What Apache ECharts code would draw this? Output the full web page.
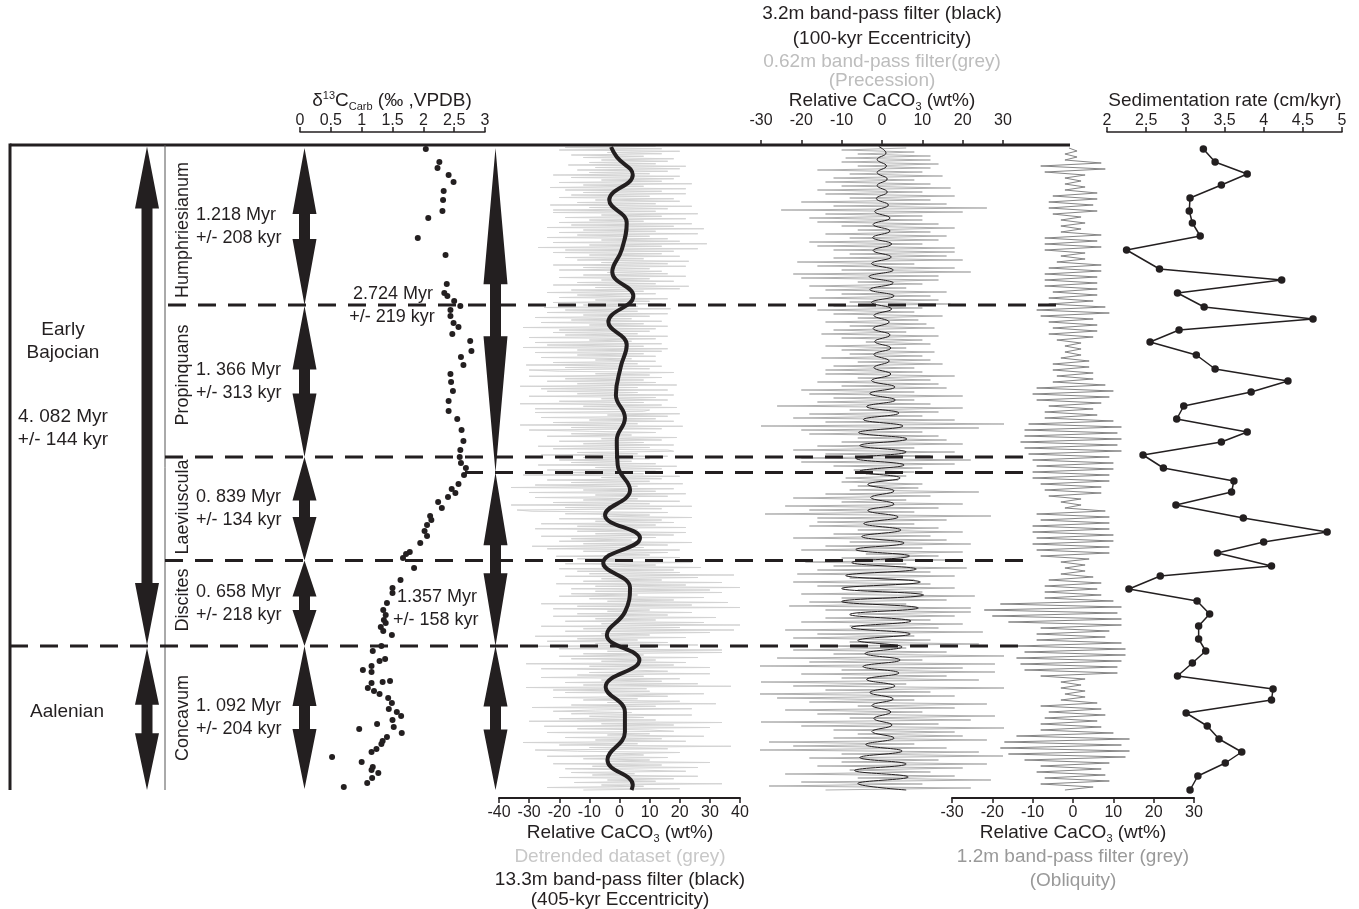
<!DOCTYPE html>
<html><head><meta charset="utf-8">
<script src="https://cdn.jsdelivr.net/npm/echarts@6/dist/echarts.min.js"></script>
<style>html,body{margin:0;padding:0;background:#fff}#c{width:1359px;height:909px}</style>
</head><body><div id="c"></div>
<script>
// ---------- DATA (heights in m above base of section) ----------
const d13cHeight = [64.1,62.8,62.2,61.5,60.8,59.9,59.0,57.9,57.2,55.2,53.5,50.6,49.7,49.4,48.9,48.4,48.0,47.4,46.7,46.3,45.6,44.9,43.9,43.3,42.5,41.6,40.8,39.9,38.9,37.9,37.1,36.0,34.9,34.0,33.3,32.7,32.2,31.5,30.6,30.1,29.7,29.3,28.8,28.2,27.4,27.0,26.5,25.9,25.4,24.7,23.8,23.6,23.2,22.2,21.0,20.2,19.7,18.7,18.0,17.5,17.0,16.7,16.3,15.9,15.5,14.4,13.9,13.1,12.9,12.4,12.0,11.8,10.8,10.9,10.7,10.2,9.9,9.6,9.2,8.7,8.1,7.8,7.4,7.0,6.6,6.3,6.1,5.7,5.3,4.9,4.6,4.1,3.8,3.3,2.8,2.3,2.0,1.7,1.2,0.7,0.3];
const d13cValue = [2.04,2.26,2.23,2.41,2.49,2.33,2.32,2.31,2.08,1.91,2.36,2.38,2.34,2.39,2.50,2.60,2.44,2.44,2.49,2.57,2.47,2.76,2.78,2.61,2.65,2.44,2.45,2.48,2.41,2.41,2.55,2.62,2.65,2.60,2.59,2.61,2.69,2.66,2.57,2.46,2.52,2.40,2.24,2.30,2.11,2.13,2.06,2.02,2.06,1.95,1.78,1.72,1.67,1.85,1.63,1.50,1.50,1.41,1.35,1.39,1.36,1.39,1.31,1.35,1.49,1.32,1.18,1.38,1.29,1.16,1.02,1.16,1.34,1.46,1.16,1.10,1.20,1.29,1.43,1.49,1.44,1.57,1.64,1.50,1.25,1.52,0.96,1.65,1.41,1.34,1.32,1.24,1.16,0.52,1.00,1.18,1.16,1.27,1.17,1.09,0.71];

const sedHeight = [64.1,62.8,61.6,60.5,59.2,57.9,56.7,55.4,54.0,52.1,51.0,49.7,48.3,47.1,46.0,44.8,43.5,42.1,40.9,39.8,38.4,37.1,35.8,34.8,33.5,32.2,30.9,29.8,28.5,27.2,25.8,24.8,23.7,22.4,21.4,20.1,18.9,17.6,16.4,15.1,13.9,12.7,11.4,10.1,9.0,7.7,6.4,5.1,3.8,2.7,1.4,0.0];
const sedRate = [3.23,3.38,3.79,3.46,3.06,3.05,3.09,3.19,2.25,2.67,4.23,2.90,3.24,4.63,2.92,2.55,3.14,3.38,4.31,3.84,2.98,2.89,3.79,3.46,2.46,2.72,3.62,3.59,2.88,3.74,4.81,4.00,3.41,4.10,2.68,2.28,3.15,3.31,3.17,3.17,3.26,3.09,2.90,4.12,4.10,3.01,3.28,3.43,3.72,3.51,3.16,3.06];

// 13.3 m band-pass (405-kyr)
const ecc405Height = [64.3,63.3,61.5,59.0,56.7,54.0,51.8,49.4,46.8,44.5,42.3,39.5,37.2,35.0,32.5,30.0,27.5,25.2,22.7,20.2,17.8,15.5,13.0,10.3,7.8,5.8,3.0,0.5,0.0];
const ecc405Value = [-2.8,-0.9,4.4,-3.4,2.4,0.7,-2.4,4.6,-3.7,2.4,0.4,-1.2,1.8,-0.9,-0.6,3.5,-4.8,6.8,-5.4,3.5,1.8,-4.2,6.6,-4.6,1.8,1.8,-4.0,4.4,4.0];

// detrended CaCO3 (sampled every 0.125 m from base)
const detrendStep = 0.125;
const detrendValues = [
-12,20,-24,8,-6,34,-15,12,-4,18,-20,26,-9,5,-16,22,
5,-18,26,-9,14,-22,30,-4,10,-12,16,-24,8,-2,20,-14,
-28,16,-10,37,-20,6,-32,22,-8,14,-18,28,-4,10,-24,18,
10,-14,30,-25,18,-6,34,-30,12,-20,8,-10,24,-16,4,-22,
-8,24,-29,12,-16,32,-4,20,-12,6,-22,16,-2,28,-18,10,
-22,9,-31,37,-12,26,-18,14,-6,20,-26,8,-14,30,-10,16,
4,-26,30,-10,18,-31,22,-6,12,-16,26,-20,8,-12,34,-4,
34,-20,12,-32,26,-8,16,-24,6,-14,22,-28,10,-6,30,-18,
38,-12,20,-26,40,-6,28,-18,12,-8,32,-22,16,-14,24,-4,
10,-22,40,-14,24,-26,36,-4,18,-10,28,-20,6,-16,34,-8,
30,-16,40,-8,22,-21,34,-12,14,-6,26,-18,38,-10,20,-14,
18,-20,27,-6,12,-18,24,-10,4,-14,20,-21,10,-4,16,-12,
20,-24,8,-29,16,-12,24,-20,4,-16,12,-26,18,-8,22,-14,
6,-28,22,-14,12,-26,18,-8,14,-20,24,-6,10,-18,16,-29,
-34,14,-18,24,-36,10,-22,20,-12,6,-28,16,-8,22,-30,12,
-12,18,-36,6,-28,21,-16,10,-24,14,-6,20,-32,8,-18,12,
-24,14,-8,19,-27,12,-16,4,-20,10,-12,16,-26,6,-14,18,
16,-22,10,-27,18,-12,8,-20,14,-6,19,-24,4,-16,12,-10,
-30,14,-16,21,-33,6,-22,18,-10,12,-26,16,-4,20,-28,8,
10,-28,19,-12,14,-33,8,-20,16,-6,12,-30,18,-14,6,-24,
16,-26,6,-33,19,-14,12,-24,8,-18,14,-30,10,-8,18,-20,
-30,10,-18,14,-31,6,-22,12,-8,4,-26,12,-14,8,-28,14,
-14,16,-32,8,-24,14,-28,4,-10,12,-30,16,-18,6,-22,10,
-20,12,-32,16,-10,8,-26,14,-16,4,-28,10,-12,16,-24,6,
-18,17,-25,6,-12,14,-22,10,-8,16,-20,4,-14,12,-24,8,
-16,20,-8,23,-22,12,-14,18,-6,10,-20,22,-12,16,-4,14,
-20,10,-12,22,-22,16,-6,23,-14,8,-18,20,-10,14,-22,18,
-18,26,-27,14,-10,29,-22,20,-6,16,-24,10,-14,26,-20,12,
-12,28,-24,18,-16,24,-20,8,-10,22,-18,14,-6,26,-22,12,
-22,16,-10,24,-23,12,-14,20,-8,18,-20,10,-16,22,-12,14,
-18,22,-23,8,-12,24,-20,14,-6,18,-16,20,-22,10,-10,16,
-14,20,-8,22,-17,12,-10,16,-6,18,-12,8,-16,14,-4,20,
-20,14,-18,12];

// 3.2 m band-pass (100-kyr), sampled every 0.65 m
const ecc100Step = 0.65;
const ecc100Values = [6,-6,6.5,-6.8,6,-5.5,5,-4,3,-2.5, 2.5,-2,2.2,-2.5,2.8,-3,3.2,-3.8,4.2,-4.7,
 4.5,-4.2,5,-6,7,-7.6,7.2,-8,9,-10, 10.3,-10,9.5,-9,8.5,-7.5,6.8,-6.5,5.5,-5,
 4.7,-4.5,4,-3.5,3,-2.8,3,-3.5,4.5,-5.6, 5.5,-6.4,6,-5.5,6.2,-5.8,5.2,-4.6,4.2,-3.8,
 3.3,-3,3.2,-2.6,2.2,-2,1.8,-2,2.2,-1.8, 2,-2.2,1.8,-2,2.4,-2.6,3,-3,2.8,-3.2,
 2.8,-2.6,2.3,-2.2,2.4,-2.3,2,-2.2,2,-1.8, 1.6,-1.4,1.3,-1.2,1.3,-1.2,1.1,-1.2,1,-0.8];

// 0.62 m band-pass (precession), sampled every 0.2 m
const precStep = 0.2;
const precValues = [
-14,22,-28,10,-20,27,-6,18,-24,12,-8,20,-16,26,-10,
14,-18,30,-10,24,-31,16,-22,8,-28,26,-12,20,-6,18,
-12,31,-20,14,-30,22,-8,28,-16,10,-24,18,-6,26,-18,
8,-26,18,-33,12,-14,32,-22,6,-30,24,-10,16,-20,28,
-10,20,-32,28,-18,10,-26,33,-12,16,-22,6,-14,24,-8,
12,-22,8,-16,25,-24,14,-8,20,-20,12,-14,18,-6,22,
-14,22,-23,6,-18,16,-10,23,-20,10,-6,18,-16,12,-22,
8,-8,18,-21,12,-16,21,-12,6,-19,16,-10,14,-4,20,
-20,10,-14,22,-8,16,-22,12,-12,20,-6,14,-18,8,-16,
16,-16,27,-29,8,-18,14,-24,20,-10,6,-22,12,-14,24,
-8,9,-6,10,-10,4,-9,6,-4,8,-7,10,-12,18,-20,
22,-20,12,-14,18,-22,8,-16,20,-10,16,-6,14,-18,10,
-20,24,-30,31,-14,18,-22,10,-18,14,-8,20,-26,12,-16,
8,-12,20,-18,8,-20,16,-10,14,-16,12,-6,18,-14,10,
-14,8,-12,15,-6,12,-15,10,-8,13,-10,6,-14,12,-4,
10,-10,14,-15,6,-12,13,-8,11,-14,9,-6,15,-12,8,
-16,10,-12,17,-8,14,-18,12,-10,16,-14,6,-18,10,-6,
14,-20,14,-22,22,-10,18,-16,8,-21,20,-12,16,-8,18,
-12,18,-16,10,-18,14,-8,16,-14,12,-6,18,-10,14,-16,
10,-18,10,-14,20,-25,26,-12,16,-20,12,-8,18,-14,10,
-16,17,-10,12,-14,8,-12,15,-8,10,-16,12,-6,14,-10,
12,-9,12,-6,8,-10,6];

// 1.2 m band-pass (obliquity), sampled every 0.3 m
const oblStep = 0.3;
const oblValues = [
-2,5,-8,9,-7,8,-9,7,-8,9, -12,13,-16,14,-18,12,-17,14,-14,10, -8,7,-8,6,-7,8,-6,7,-8,6,
-3,3,-2,3,-3,2,-3,3,-8,11, -12,11,-13,12,-14,13,-12,13,-14,12, -9,8,-9,9,-8,12,-16,12,-20,11,
-22,12,-18,10,-7,7,-7,6,-7,7, -6,5,-3,3,-2,3,-3,4,-8,9, -9,9,-10,10,-9,10,-10,9,-10,9,
-8,9,-9,8,-2,2,-3,2,-6,7, -7,7,-8,9,-10,9,-10,10,-9,10, -10,9,-11,12,-12,11,-13,12,-12,11,
-12,12,-11,10,-7,6,-7,5,-6,7, -9,9,-10,10,-9,8,-5,5,-4,5, -5,4,-5,4,-3,2,-2,2,-2,2,
-4,5,-6,6,-5,6,-6,5,-8,9, -9,8,-6,5,-6,6,-5,6,-7,6, -7,6,-7,7,-6,7,-4,3,-3,3,
-7,7,-7,6,-7,7,-3,2,-3,3, -3,2,-5,6,-6,5,-6,6,-5,6, -2,3,-2,2,-2,3,-7,8,-8,7,
-2,1,-2,1,-1];

// tick labels
const d13cTicks = [0,0.5,1,1.5,2,2.5,3];
const detrendTicks = [-40,-30,-20,-10,0,10,20,30,40];
const ecc100Ticks = [-30,-20,-10,0,10,20,30];
const oblTicks = [-30,-20,-10,0,10,20,30];
const sedTicks = [2,2.5,3,3.5,4,4.5,5];

// zones
const zoneNames = ['Humphriesianum','Propinquans','Laeviuscula','Discites','Concavum'];
const zoneTop = [64.2,48.4,33.3,22.95,14.4];
const zoneBase = [48.5,33.3,22.95,14.4,0.1];
const zoneDurMyr = ['1.218 Myr','1. 366 Myr','0. 839 Myr','0. 658 Myr','1. 092 Myr'];
const zoneDurErr = ['+/- 208 kyr','+/- 313 kyr','+/- 134 kyr','+/- 218 kyr','+/- 204 kyr'];
const bigTop = [64.2,31.75,14.4];
const bigBase = [31.75,14.4,0];
const boundaryH = [48.5,33.3,31.75,22.95,14.4];
const H_MAX = 64.5;

// ---------- CHART ----------
const FONT = '"Liberation Sans", Arial, Helvetica, sans-serif';
const INK = '#231f20';
const chart = echarts.init(document.getElementById('c'));

const gridBox = [[300,185],[499,241],[761,242],[952,242],[1107,235]];
const grids = gridBox.map(g => ({left:g[0], width:g[1], top:145, height:645, containLabel:false, outerBoundsMode:'none', show:false}));
const yAxes = gridBox.map((g,i) => ({type:'value', gridIndex:i, min:0, max:H_MAX, show:false}));

function xa(grid, ticks, pos, offset, extra) {
  const base = {
    type:'value', gridIndex:grid, position:pos, offset:offset,
    min:ticks[0], max:ticks[ticks.length-1], interval:ticks[1]-ticks[0],
    splitLine:{show:false},
    axisLine:{show:true, onZero:false, lineStyle:{color:INK, width:1.5}},
    axisTick:{show:true, inside:false, length:5, lineStyle:{color:INK, width:1.5}},
    axisLabel:{color:INK, fontSize:16, fontFamily:FONT, margin:3}
  };
  return Object.assign(base, extra || {});
}
const xAxes = [
  xa(0, d13cTicks, 'top', 13),
  xa(1, detrendTicks, 'bottom', 8, {axisLine:{show:true,onZero:false,lineStyle:{color:INK,width:2}}, axisLabel:{color:INK,fontSize:16,fontFamily:FONT,margin:7}}),
  xa(2, ecc100Ticks, 'top', 0, {axisLine:{show:false,onZero:false}, axisLabel:{color:INK,fontSize:16,fontFamily:FONT,margin:16}}),
  xa(3, oblTicks, 'bottom', 8, {axisLine:{show:true,onZero:false,lineStyle:{color:INK,width:2}}, axisLabel:{color:INK,fontSize:16,fontFamily:FONT,margin:7}}),
  xa(4, sedTicks, 'top', 13)
];

const zip = (xs, ys) => xs.slice(0, Math.min(xs.length, ys.length)).map((x,i) => [x, ys[i]]);
const even = (vals, step) => vals.map((v,i) => [v, +(i*step).toFixed(3)]);

const series = [
  {type:'line', xAxisIndex:1, yAxisIndex:1, data:even(detrendValues, detrendStep), symbol:'none', clip:false,
   lineStyle:{color:'#d3d3d3', width:1}, z:1},
  {type:'line', xAxisIndex:1, yAxisIndex:1, data:zip(ecc405Value, ecc405Height), smooth:0.45, symbol:'none', clip:false,
   lineStyle:{color:INK, width:4}, z:3},
  {type:'line', xAxisIndex:2, yAxisIndex:2, data:even(precValues, precStep), symbol:'none', clip:false,
   lineStyle:{color:'#b0b0b0', width:1}, z:1},
  {type:'line', xAxisIndex:2, yAxisIndex:2, data:even(ecc100Values, ecc100Step), smooth:0.45, symbol:'none', clip:false,
   lineStyle:{color:INK, width:1}, z:3},
  {type:'line', xAxisIndex:3, yAxisIndex:3, data:even(oblValues, oblStep), symbol:'none', clip:false,
   lineStyle:{color:'#858585', width:1}, z:2},
  {type:'scatter', xAxisIndex:0, yAxisIndex:0, data:zip(d13cValue, d13cHeight), symbolSize:6,
   itemStyle:{color:INK, opacity:1}, z:3},
  {type:'line', xAxisIndex:4, yAxisIndex:4, data:zip(sedRate, sedHeight), symbol:'circle', symbolSize:7.5, clip:false,
   lineStyle:{color:INK, width:1.5}, itemStyle:{color:INK}, z:3}
];

chart.setOption({animation:false, backgroundColor:'#fff', grid:grids, xAxis:xAxes, yAxis:yAxes, series:series});

// ---------- decorations (positions derived from the height axis) ----------
const py = h => chart.convertToPixel({yAxisIndex:0}, h);
const G = [];
function line(x1,y1,x2,y2,w,dash,color){
  G.push({type:'line', z:100, silent:true, shape:{x1,y1,x2,y2}, style:{stroke:color||INK, lineWidth:w, lineDash:dash||null}});
}
function poly(points){ G.push({type:'polygon', z:100, silent:true, shape:{points}, style:{fill:INK}}); }
function text(str, x, y, o){
  o = o || {};
  const st = {text:str, x:0, y:0, fill:o.color||INK, fontSize:o.size||19, fontFamily:FONT,
    align:o.align||'center', verticalAlign:'middle', textAlign:o.align||'center', textVerticalAlign:'middle'};
  if (o.rich) st.rich = o.rich;
  G.push({type:'text', z:100, silent:true, x:x, y:y, rotation:o.rot||0, style:st});
}
function arrow(xc, hTop, hBot, head){
  const yT = py(hTop), yB = py(hBot);
  const L = head < 1 ? (yB - yT) * head : head;
  const hw = 12, sw = 5.5;
  poly([[xc,yT],[xc+hw,yT+L],[xc+sw,yT+L],[xc+sw,yB-L],[xc+hw,yB-L],[xc,yB],[xc-hw,yB-L],[xc-sw,yB-L],[xc-sw,yT+L],[xc-hw,yT+L]]);
}

const yTop = py(H_MAX), yBot = py(0);
line(10, yTop, 1070, yTop, 3);
line(10, yTop-1.5, 10, yBot, 3);
line(165, yTop, 165, yBot, 1, null, '#555');
const bx = [[168,1062],[165,1030],[465,1030],[165,1033],[10,1030]];
boundaryH.forEach((h,i) => line(bx[i][0], py(h), bx[i][1], py(h), 3, [18,12]));
arrow(147, 64.35, 14.5, 62);
arrow(147, 14.2, 0, 0.4);
zoneTop.forEach((t,i) => arrow(304.5, t, zoneBase[i], 0.42));
bigTop.forEach((t,i) => arrow(495.5, t, bigBase[i], 0.42));

text('Early', 63, 330); text('Bajocian', 63, 353);
text('4. 082 Myr', 63, 417); text('+/- 144 kyr', 63, 440);
text('Aalenian', 67, 712);
const zoneNameY = [230, 375, 507, 600, 718];
zoneNames.forEach((n,i) => text(n, 183, zoneNameY[i], {size:18, rot:Math.PI/2}));
zoneTop.forEach((t,i) => {
  const c = (py(t) + py(zoneBase[i])) / 2;
  text(zoneDurMyr[i], 196, c - 11.5, {size:18, align:'left'});
  text(zoneDurErr[i], 196, c + 11.5, {size:18, align:'left'});
});
text('2.724 Myr', 393, 294, {size:18});
text('+/- 219 kyr', 392, 317, {size:18});
text('1.357 Myr', 397, 597, {size:18, align:'left'});
text('+/- 158 kyr', 393, 620, {size:18, align:'left'});

const rich = (c) => ({
  n:{fontSize:19, fontFamily:FONT, fill:c||INK, lineHeight:22},
  sup:{fontSize:11, fontFamily:FONT, fill:c||INK, verticalAlign:'top'},
  sub:{fontSize:11, fontFamily:FONT, fill:c||INK, verticalAlign:'bottom'}
});
text('{n|δ}{sup|13}{n|C}{sub|Carb}{n| (‰ ,VPDB)}', 392, 101, {rich:rich()});
text('Sedimentation rate (cm/kyr)', 1225, 101);
text('3.2m band-pass filter (black)', 882, 14);
text('(100-kyr Eccentricity)', 882, 39);
text('0.62m band-pass filter(grey)', 882, 62, {color:'#bdbdbd'});
text('(Precession)', 882, 81, {color:'#bdbdbd'});
text('{n|Relative CaCO}{sub|3}{n| (wt%)}', 882, 101, {rich:rich()});
text('{n|Relative CaCO}{sub|3}{n| (wt%)}', 620, 833, {rich:rich()});
text('Detrended dataset (grey)', 620, 857, {color:'#c8c8c8'});
text('13.3m band-pass filter (black)', 620, 880);
text('(405-kyr Eccentricity)', 620, 900);
text('{n|Relative CaCO}{sub|3}{n| (wt%)}', 1073, 833, {rich:rich()});
text('1.2m band-pass filter (grey)', 1073, 857, {color:'#999999'});
text('(Obliquity)', 1073, 881, {color:'#999999'});

chart.setOption({graphic:{elements:G}});
</script></body></html>
